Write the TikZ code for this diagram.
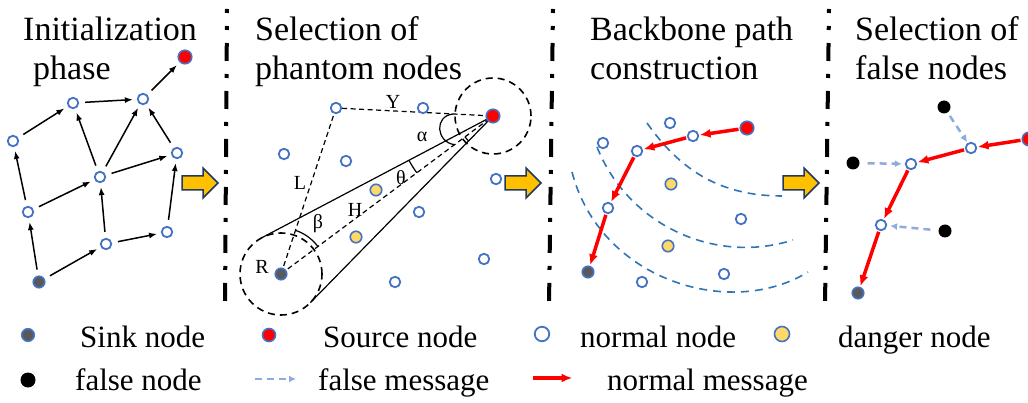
\documentclass[tikz,border=0pt]{standalone}
\usepackage{fontspec}
\setmainfont{Liberation Serif}
\usetikzlibrary{arrows.meta,backgrounds}
\definecolor{nblue}{HTML}{4472C4}
\definecolor{sinkgray}{HTML}{595959}
\definecolor{dangery}{HTML}{FFD966}
\definecolor{arrowor}{HTML}{FFC000}
\definecolor{arrowbd}{HTML}{1F3864}
\definecolor{curveblue}{HTML}{2E75B6}
\definecolor{falseblue}{HTML}{8FAADC}
\definecolor{nred}{HTML}{FF0000}
\begin{document}
\begin{tikzpicture}[x=1pt,y=1pt,
  nd/.style={circle,inner sep=0pt,draw=nblue,line width=1.8pt,minimum size=10.5pt,fill=white},
  srcn/.style={nd,fill=nred,minimum size=13.5pt,line width=1.6pt},
  sinkn/.style={nd,fill=sinkgray,minimum size=11.5pt,line width=1.6pt},
  dangn/.style={nd,fill=dangery,minimum size=11.5pt,line width=1.6pt},
  falsen/.style={circle,inner sep=0pt,fill=black,minimum size=13pt},
  title/.style={anchor=base west,inner sep=0pt,font=\fontsize{34}{40}\selectfont},
  legtxt/.style={anchor=base west,inner sep=0pt,font=\fontsize{31}{36}\selectfont},
  glabel/.style={inner sep=0pt,font=\fontsize{20}{22}\selectfont},
  blk/.style={draw=black,line width=1.5pt,-{Latex[length=8pt,width=6pt]},shorten <=6pt,shorten >=4pt},
  redmsg/.style={draw=nred,line width=3.5pt,-{Latex[length=11pt,width=9pt]},shorten <=1pt,shorten >=0.5pt},
  falsemsg/.style={draw=falseblue,line width=2.5pt,dash pattern=on 7pt off 5pt,-{Latex[length=7pt,width=7pt]}},
  geo/.style={draw=black,line width=1.2pt},
  geod/.style={geo,dash pattern=on 5pt off 3.5pt},
  dcirc/.style={draw=black,line width=1.6pt,dash pattern=on 7pt off 5pt},
  curve/.style={draw=curveblue,line width=1.6pt,dash pattern=on 8pt off 6pt},
  divider/.style={draw=black,line width=4pt,dash pattern=on 18pt off 13pt on 4pt off 13pt,dash phase=14pt},
  barrow/.style={draw=arrowbd,fill=arrowor,line width=1.5pt,line join=miter},
  blockarrow/.pic={\path[barrow] (0,-7) -- (21,-7) -- (21,-15) -- (36,0) -- (21,15) -- (21,7) -- (0,7) -- cycle;}
]
\useasboundingbox (0,0) rectangle (1028,-403);

% ---------- titles ----------
\node[title] (t1a) at (23,-40.5) {Initialization};
\node[title] (t1b) at (33,-80) {phase};
\node[title] (t2a) at (255,-40.5) {Selection of};
\node[title] (t2b) at (255,-80) {phantom nodes};
\node[title] (t3a) at (590,-40.5) {Backbone path};
\node[title] (t3b) at (590,-80) {construction};
\node[title] (t4a) at (855,-41) {Selection of};
\node[title] (t4b) at (855,-80) {false nodes};

% ---------- dividers ----------
\coordinate (dv1a) at (227,-9);  \coordinate (dv1b) at (225,-305);
\coordinate (dv2a) at (553,-9);  \coordinate (dv2b) at (549,-305);
\coordinate (dv3a) at (829,-9);  \coordinate (dv3b) at (825,-305);
\draw[divider] (dv1a) -- (dv1b);
\draw[divider] (dv2a) -- (dv2b);
\draw[divider] (dv3a) -- (dv3b);

% ---------- block arrows ----------
\pic (ba1) at (182,-183) {blockarrow};
\pic (ba2) at (505,-183) {blockarrow};
\pic (ba3) at (783,-183) {blockarrow};

% ---------- panel 1 ----------
\node[srcn] (src1) at (185,-57) {};
\node[nd] (a1) at (73,-103) {};
\node[nd] (a2) at (143,-99) {};
\node[nd] (a3) at (13,-141) {};
\node[nd] (a4) at (177,-153) {};
\node[nd] (a5) at (100,-177) {};
\node[nd] (a6) at (28,-212) {};
\node[nd] (a7) at (167,-232) {};
\node[nd] (a8) at (106,-244) {};
\node[sinkn] (snk1) at (39,-282) {};
\draw[blk] (snk1) -- (a6);
\draw[blk] (snk1) -- (a8);
\draw[blk] (a6) -- (a3);
\draw[blk] (a6) -- (a5);
\draw[blk] (a3) -- (a1);
\draw[blk] (a1) -- (a2);
\draw[blk] (a2) -- (src1);
\draw[blk] (a5) -- (a1);
\draw[blk] (a5) -- (a2);
\draw[blk] (a5) -- (a4);
\draw[blk] (a4) -- (a2);
\draw[blk] (a8) -- (a5);
\draw[blk] (a8) -- (a7);
\draw[blk] (a7) -- (a4);

% ---------- panel 2 ----------
\node[srcn] (src2) at (493,-116) {};
\node[sinkn] (snk2) at (281,-274) {};
\node[nd] (ynode) at (336,-108) {};
\node[nd] (b1) at (423,-108) {};
\node[nd] (b2) at (284,-154) {};
\node[nd] (b3) at (346,-161) {};
\node[nd] (b4) at (496,-179) {};
\node[dangn] (d1) at (376,-190) {};
\node[nd] (b5) at (419,-212) {};
\node[dangn] (d2) at (356,-237) {};
\node[nd] (b6) at (484,-259) {};
\node[nd] (b7) at (395,-282) {};
\coordinate (tu) at (261.9,-237.7);
\coordinate (tl) at (310.3,-302.7);
\begin{scope}[on background layer]
\draw[dcirc] (src2.center) circle[radius=38];
\draw[dcirc] (snk2.center) circle[radius=41];
\draw[geo] (src2.center) -- (tu);
\draw[geo] (src2.center) -- (tl);
\draw[geod] (snk2.center) -- (src2.center);
\draw[geod] (snk2.center) -- (ynode);
\draw[geod] (ynode) -- (src2.center);
\draw[geo] (453,-114) .. controls (434,-116) and (436,-142) .. (454.5,-144.7);
\draw[geo] ([shift={(-143.3:95)}]src2.center) arc[start angle=-143.3, end angle=-152.2, radius=95];
\draw[geo] ([shift={(-134.4:35)}]src2.center) arc[start angle=-134.4, end angle=-143.3, radius=35];
\draw[geo] ([shift={(36.7:46)}]snk2.center) arc[start angle=36.7, end angle=71.7, radius=46];
\end{scope}
\node[glabel] (lY) at (393,-102) {Y};
\node[glabel] (lal) at (422,-137) {α};
\node[glabel] (lth) at (401,-178) {θ};
\node[glabel] (lL) at (300,-183) {L};
\node[glabel] (lH) at (355,-210) {H};
\node[glabel] (lbe) at (318,-224) {β};
\node[glabel] (lR) at (262,-267) {R};

% ---------- panel 3 ----------
\draw[curve] (647,-123) .. controls (680,-170) and (720,-196) .. (782,-196);
\draw[curve] (597,-147) .. controls (628,-225) and (715,-265) .. (793,-240);
\draw[curve] (572,-172) .. controls (600,-280) and (730,-320) .. (808,-272);
\node[srcn] (src3) at (747,-128) {};
\node[nd] (c1) at (693,-136) {};
\node[nd] (c2) at (670,-123) {};
\node[nd] (c3) at (603,-143) {};
\node[nd] (c4) at (637,-151) {};
\node[dangn] (d3) at (671,-184) {};
\node[nd] (c5) at (608,-208) {};
\node[nd] (c6) at (741,-219) {};
\node[dangn] (d4) at (668,-246) {};
\node[sinkn] (snk3) at (588,-272) {};
\node[nd] (c7) at (724,-274) {};
\node[nd] (c8) at (642,-282) {};
\draw[redmsg] (src3) -- (c1);
\draw[redmsg] (c1) -- (c4);
\draw[redmsg] (c4) -- (c5);
\draw[redmsg] (c5) -- (snk3);

% ---------- panel 4 ----------
\node[srcn] (src4) at (1029,-139) {};
\node[falsen] (f1) at (944,-107) {};
\node[nd] (e1) at (971,-148) {};
\node[falsen] (f2) at (853,-163) {};
\node[nd] (e2) at (911,-164) {};
\node[nd] (e3) at (881,-225) {};
\node[falsen] (f3) at (945,-231) {};
\node[sinkn] (snk4) at (858,-293) {};
\draw[redmsg] (src4) -- (e1);
\draw[redmsg] (e1) -- (e2);
\draw[redmsg] (e2) -- (e3);
\draw[redmsg] (e3) -- (snk4);
\draw[falsemsg,shorten <=4pt,shorten >=1pt] (f1) -- (e1);
\draw[falsemsg,shorten <=8pt,shorten >=3pt] (f2) -- (e2);
\draw[falsemsg,shorten <=8pt,shorten >=3pt] (f3) -- (e3);

% ---------- legend ----------
\node[sinkn,minimum size=12.5pt] (lg1) at (28,-335) {};
\node[legtxt] (lt1) at (80,-348) {Sink node};
\node[srcn,minimum size=13pt] (lg2) at (269,-335) {};
\node[legtxt] (lt2) at (323,-348) {Source node};
\node[nd,minimum size=14.5pt] (lg3) at (542,-334) {};
\node[legtxt] (lt3) at (580,-348) {normal node};
\node[dangn,minimum size=15pt] (lg4) at (782,-334) {};
\node[legtxt] (lt4) at (838,-348) {danger node};
\node[falsen,minimum size=15pt] (lg5) at (28,-380) {};
\node[legtxt] (lt5) at (75,-390) {false node};
\coordinate (lfa) at (255,-379); \coordinate (lfb) at (296,-379);
\draw[falsemsg] (lfa) -- (lfb);
\node[legtxt] (lt6) at (318,-390) {false message};
\coordinate (lra) at (532,-378); \coordinate (lrb) at (573,-378);
\draw[redmsg] (lra) -- (lrb);
\node[legtxt] (lt7) at (607,-390) {normal message};
\end{tikzpicture}
\end{document}
